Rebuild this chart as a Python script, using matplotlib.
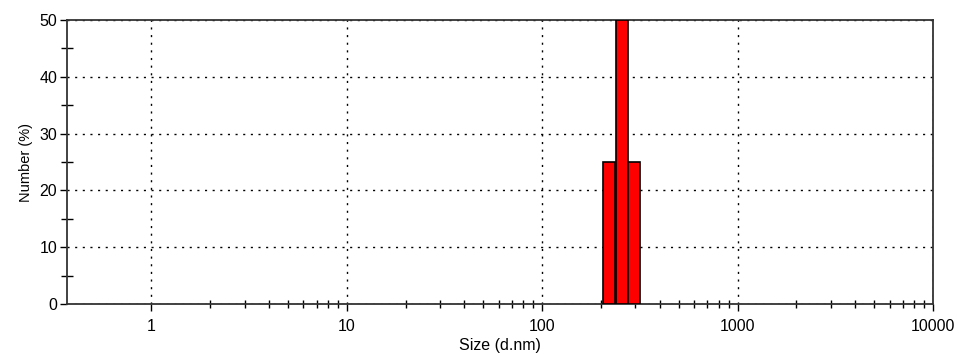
import numpy as np
import matplotlib.pyplot as plt
from matplotlib.ticker import MultipleLocator, FixedLocator, NullFormatter

plt.rcParams['font.family'] = ['Liberation Sans', 'DejaVu Sans']

# size distribution by number
size_nm = [220.2, 255.0, 295.3]
number_pct = [25, 50, 25]
x_ticks = [1, 10, 100, 1000, 10000]
x_tick_labels = ['1', '10', '100', '1000', '10000']

# bins are evenly spaced in log size
log_step = 0.0628
centers = np.log10(size_nm)
lefts = 10 ** (centers - log_step / 2)
rights = 10 ** (centers + log_step / 2)

fig = plt.figure(figsize=(9.62, 3.54), dpi=100)
ax = fig.add_axes([0.0697, 0.1412, 0.9002, 0.8023])

ax.bar(lefts, number_pct, width=rights - lefts, align='edge',
       color='#ff0000', edgecolor='black', linewidth=1.2, zorder=3)

ax.set_xscale('log')
ax.set_xlim(0.37, 10000)
ax.set_ylim(0, 50)

# minor ticks only between the labelled decades
minor_x = [m * d for d in x_ticks[:-1] for m in range(2, 10)]
ax.xaxis.set_major_locator(FixedLocator(x_ticks))
ax.set_xticklabels(x_tick_labels)
ax.xaxis.set_minor_locator(FixedLocator(minor_x))
ax.xaxis.set_minor_formatter(NullFormatter())
ax.yaxis.set_major_locator(MultipleLocator(10))
ax.yaxis.set_minor_locator(MultipleLocator(5))

ax.tick_params(which='major', direction='out', length=5, width=1, labelsize=11.5, pad=6)
ax.tick_params(axis='x', which='minor', direction='inout', length=6, width=1)
ax.tick_params(axis='y', which='minor', direction='inout', length=8, width=1)
ax.tick_params(axis='y', which='major', pad=2)

ax.grid(which='major', linestyle=(0, (1.5, 4)), color='black', linewidth=1, zorder=0)

for s in ax.spines.values():
    s.set_linewidth(1.3)
    s.set_color('#333333')

ax.set_xlabel('Size (d.nm)', fontsize=11.5, labelpad=3)
ax.set_ylabel('Number (%)', fontsize=10.5, labelpad=5)

fig.savefig('out.png', dpi=100)
